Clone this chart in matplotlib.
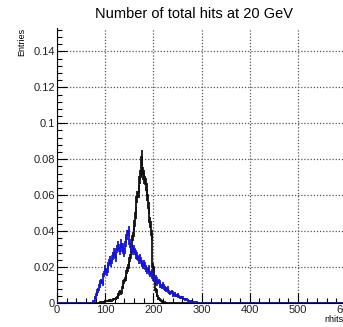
import numpy as np
import matplotlib
matplotlib.use("Agg")
import matplotlib.pyplot as plt
from matplotlib.ticker import MultipleLocator, FuncFormatter

plt.rcParams['font.family'] = ['Liberation Sans', 'DejaVu Sans']

# binning of both histograms (nhits)
bin_width = 3
x_max = 600

# black histogram, first bin starts at 90
black_start = 90
black_vals = [
    0.0005, 0.0008, 0.0006, 0.001, 0.0012, 0.0009, 0.0015, 0.0012, 0.0018, 0.0022,
    0.0025, 0.003, 0.0045, 0.006, 0.0055, 0.009, 0.012, 0.014, 0.018, 0.021,
    0.025, 0.03, 0.037, 0.043, 0.05, 0.059, 0.062, 0.07, 0.081, 0.072,
    0.07, 0.066, 0.06, 0.053, 0.045, 0.038, 0.02, 0.012, 0.007, 0.004,
    0.0025, 0.0015, 0.001, 0.0006, 0.0004, 0.0002,
]

# blue histogram, first bin starts at 75
blue_start = 75
blue_vals = [
    0.001, 0.003, 0.005, 0.007, 0.01, 0.012, 0.011, 0.016, 0.019, 0.017,
    0.021, 0.024, 0.022, 0.026, 0.028, 0.025, 0.03, 0.032, 0.029, 0.033,
    0.031, 0.028, 0.034, 0.038, 0.04, 0.033, 0.031, 0.029, 0.03, 0.027,
    0.026, 0.024, 0.025, 0.022, 0.021, 0.022, 0.019, 0.018, 0.019, 0.016,
    0.017, 0.014, 0.013, 0.014, 0.011, 0.012, 0.01, 0.009, 0.01, 0.008,
    0.0075, 0.008, 0.006, 0.0055, 0.006, 0.0045, 0.005, 0.004, 0.0045, 0.0035,
    0.003, 0.0032, 0.0025, 0.002, 0.0022, 0.0015, 0.0012, 0.001, 0.0008, 0.0006,
    0.0004, 0.0003, 0.0002, 0.0001,
]

n_events = 5000  # for Poisson-like error bars

edges = np.arange(0, x_max + bin_width, bin_width)
centers = edges[:-1] + bin_width / 2


def full_hist(start, vals):
    h = np.zeros(len(edges) - 1)
    i0 = start // bin_width
    h[i0:i0 + len(vals)] = vals
    return h


h_black = full_hist(black_start, black_vals)
h_blue = full_hist(blue_start, blue_vals)

fig = plt.figure(figsize=(3.43, 3.27), dpi=100)
ax = fig.add_axes([57 / 343, 1 - 303 / 327, 289 / 343, 275 / 327])

for h, col in [(h_black, '#111111'), (h_blue, '#1515d8')]:
    err = np.sqrt(h / n_events)
    ax.stairs(h, edges, color=col, lw=1.3, zorder=3)
    nz = h > 0
    ax.errorbar(centers[nz], h[nz], yerr=err[nz], fmt='none', ecolor=col,
                elinewidth=1.3, zorder=3)

ax.set_xlim(0, x_max)
ax.set_ylim(0, 0.153)

ax.xaxis.set_major_locator(MultipleLocator(100))
ax.xaxis.set_minor_locator(MultipleLocator(20))
ax.yaxis.set_major_locator(MultipleLocator(0.02))
ax.yaxis.set_minor_locator(MultipleLocator(0.004))
ax.yaxis.set_major_formatter(FuncFormatter(lambda v, p: '%g' % round(v, 3)))

ax.tick_params(which='both', direction='in', labelsize=8, pad=1.5,
               top=False, right=False, labelcolor='#222222')
ax.tick_params(which='major', length=7, width=0.8)
ax.tick_params(which='minor', length=3.5, width=0.8)

ax.grid(True, which='major', linestyle=(0, (1, 1.5)), color='#555555',
        lw=0.9, zorder=1)

for s in ['top', 'right']:
    ax.spines[s].set_visible(False)
ax.spines['left'].set_linewidth(0.8)
ax.spines['bottom'].set_linewidth(0.8)

fig.text(0.565, 1 - 14 / 327, 'Number of total hits at 20 GeV',
         ha='center', va='center', fontsize=10.5)
fig.text(22 / 343, 1 - 28 / 327, 'Entries', rotation=90,
         ha='center', va='top', fontsize=6.5)
fig.text(344 / 343, 1 - 319 / 327, 'nhits', ha='right', va='center',
         fontsize=6.5)

fig.savefig('out.png', dpi=100)
